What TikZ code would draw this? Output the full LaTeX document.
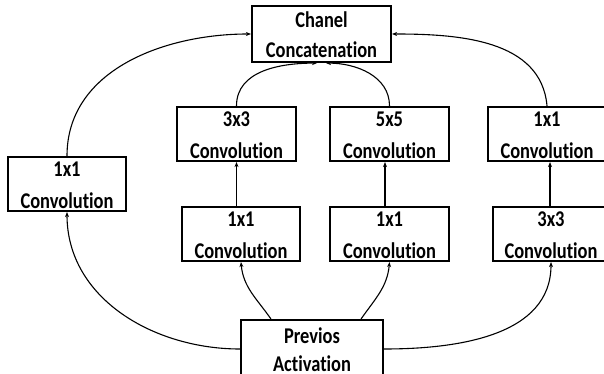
\documentclass[tikz,border=0pt]{standalone}
\usepackage{fontspec}
\newfontfamily\boxfont[FakeStretch=0.82,Ligatures=NoCommon,RawFeature=-liga]{Carlito}
\usetikzlibrary{arrows.meta,calc}
\newcommand\lineone{\rule{0pt}{18pt}}
\begin{document}
\begin{tikzpicture}[x=1pt,y=1pt,
  block/.style={draw=black,line width=2.2pt,fill=white,inner sep=0pt,
    align=center,minimum height=54pt,
    font=\boxfont\bfseries\fontsize{22.5}{32}\selectfont},
  tight/.style={font=\boxfont\bfseries\fontsize{22.5}{30}\selectfont},
  tighter/.style={font=\boxfont\bfseries\fontsize{22.5}{28}\selectfont},
  link/.style={line width=1.1pt,-{Stealth[length=5pt,width=4pt]}}]
\useasboundingbox (0,0) rectangle (604,374);
\clip (0,0) rectangle (604,374);
\fill[white] (0,0) rectangle (604,374);

% blocks
\node[block,tight,minimum width=139pt,minimum height=56pt] (cc) at (321.5,340) {\lineone Chanel\\Concatenation};
\node[block,minimum width=118pt] (l11) at (67,190) {\lineone 1x1\\Convolution};
\node[block,minimum width=119pt] (c33) at (236.5,240) {\lineone 3x3\\Convolution};
\node[block,minimum width=119pt] (c55) at (389.5,240) {\lineone 5x5\\Convolution};
\node[block,minimum width=118pt] (r11) at (547,240) {\lineone 1x1\\Convolution};
\node[block,minimum width=118pt] (m11a) at (241,140) {\lineone 1x1\\Convolution};
\node[block,minimum width=119pt] (m11b) at (389.5,140) {\lineone 1x1\\Convolution};
\node[block,minimum width=116pt] (r33) at (551,140) {\lineone 3x3\\Convolution};
\node[block,tighter,minimum width=142pt,minimum height=58pt] (pa) at (312,25) {\lineone Previos\\Activation};

% attachment points
\coordinate (paL) at ($(pa.north west)+(31,0)$);
\coordinate (paR) at ($(pa.north east)+(-23,0)$);
\coordinate (ccL) at ($(cc.south)+(-4.5,0)$);
\coordinate (ccR) at ($(cc.south)+(4.5,0)$);
\coordinate (c55in) at ($(c55.south)+(-4.5,0)$);
\coordinate (r11in) at ($(r11.south)+(3,0)$);

% branches out of the previous activation
\draw[link] (pa.west) to[out=180,in=270] (l11.south);
\draw[link] (pa.east) to[out=0,in=270] (r33.south);
\draw[link] (paL) to[out=125,in=275] (m11a.south);
\draw[link] (paR) to[out=55,in=265] (m11b.south);

% reductions to the larger kernels
\draw[link] (c33.south |- m11a.north) -- (c33.south);
\draw[link] (c55in |- m11b.north) -- (c55in);
\draw[link] (r11in |- r33.north) -- (r11in);

% merging into the concatenation
\draw[link] (l11.north) to[out=90,in=180] (cc.west);
\draw[link] (r11.north) to[out=95,in=0] (cc.east);
\draw[link] (c33.north) to[out=90,in=180] (ccL);
\draw[link] (c55.north) to[out=90,in=0] (ccR);
\end{tikzpicture}
\end{document}
